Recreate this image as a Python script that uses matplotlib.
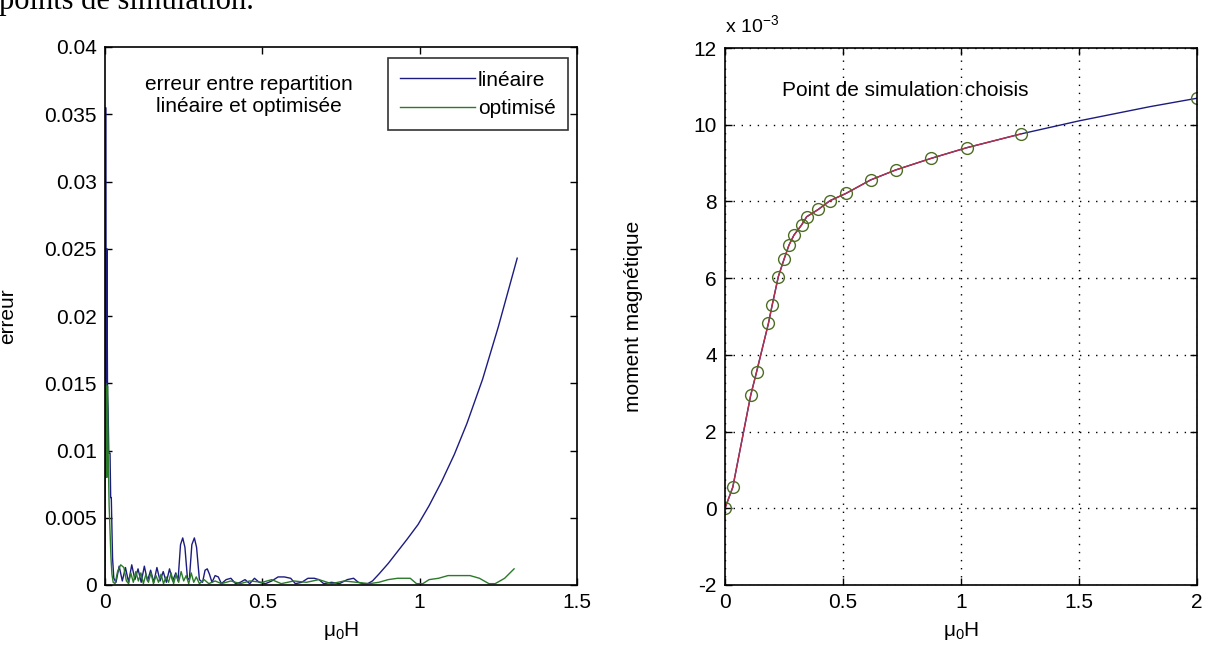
import matplotlib
matplotlib.use("Agg")
import matplotlib.pyplot as plt

plt.rcParams['font.family'] = ['Liberation Sans', 'DejaVu Sans']
plt.rcParams['mathtext.fontset'] = 'custom'
plt.rcParams['mathtext.rm'] = 'Liberation Sans'
plt.rcParams['mathtext.it'] = 'Liberation Sans'

# ---------------- left panel data ----------------
lin_x = [0.000, 0.002, 0.004, 0.006, 0.008, 0.010, 0.012, 0.016, 0.018, 0.020, 0.024, 0.028,
         0.035, 0.045, 0.055, 0.065, 0.075, 0.085, 0.095, 0.105, 0.115, 0.125, 0.135, 0.145,
         0.155, 0.165, 0.175, 0.185, 0.195, 0.205, 0.215, 0.225, 0.232, 0.240, 0.247, 0.254,
         0.262, 0.268, 0.276, 0.284, 0.291, 0.300, 0.310, 0.318, 0.325, 0.332, 0.340, 0.350,
         0.360, 0.370, 0.385, 0.400, 0.415, 0.430, 0.445, 0.460, 0.475, 0.490, 0.510, 0.530,
         0.550, 0.570, 0.590, 0.605, 0.625, 0.645, 0.665, 0.680, 0.695, 0.720, 0.745, 0.770,
         0.790, 0.805, 0.820, 0.835, 0.850, 0.870, 0.900, 0.930, 0.960, 0.995, 1.030, 1.070,
         1.110, 1.150, 1.200, 1.250, 1.310]
lin_y = [0.0000, 0.0355, 0.0100, 0.0250, 0.0143, 0.0130, 0.0098, 0.0098, 0.0065, 0.0065, 0.0020, 0.0005,
         0.0002, 0.0014, 0.0003, 0.0013, 0.0002, 0.0015, 0.0004, 0.0012, 0.0002, 0.0014, 0.0003, 0.0011,
         0.0002, 0.0013, 0.0003, 0.0010, 0.0002, 0.0012, 0.0003, 0.0009, 0.0003, 0.0030, 0.0035, 0.0028,
         0.0005, 0.0004, 0.0030, 0.0035, 0.0028, 0.0004, 0.0002, 0.0011, 0.0012, 0.0008, 0.0002, 0.0007,
         0.0006, 0.0001, 0.0004, 0.0005, 0.0001, 0.0002, 0.0004, 0.0001, 0.0005, 0.0002, 0.0001, 0.0003,
         0.0006, 0.0006, 0.0005, 0.0001, 0.0002, 0.0005, 0.0005, 0.0004, 0.0001, 0.0002, 0.0001, 0.0004,
         0.0005, 0.0002, 0.0001, 0.0001, 0.0003, 0.0008, 0.0016, 0.0025, 0.0034, 0.0045, 0.0059, 0.0077,
         0.0097, 0.0120, 0.0153, 0.0192, 0.0243]

opt_x = [0.000, 0.002, 0.004, 0.006, 0.008, 0.010, 0.013, 0.016, 0.019, 0.022, 0.026, 0.032,
         0.040, 0.050, 0.060, 0.068, 0.075, 0.082, 0.090, 0.098, 0.106, 0.114, 0.122, 0.130,
         0.138, 0.146, 0.154, 0.162, 0.170, 0.178, 0.186, 0.194, 0.202, 0.210, 0.218, 0.226,
         0.234, 0.242, 0.250, 0.258, 0.266, 0.274, 0.282, 0.290, 0.300, 0.315, 0.330, 0.350,
         0.370, 0.400, 0.430, 0.460, 0.500, 0.530, 0.560, 0.600, 0.640, 0.680, 0.720, 0.760,
         0.800, 0.840, 0.870, 0.900, 0.930, 0.970, 0.990, 1.010, 1.030, 1.060, 1.090, 1.120,
         1.160, 1.190, 1.220, 1.240, 1.270, 1.300]
opt_y = [0.0085, 0.0150, 0.0135, 0.0080, 0.0148, 0.0100, 0.0060, 0.0040, 0.0020, 0.0008, 0.0002, 0.0001,
         0.0010, 0.0015, 0.0013, 0.0003, 0.0001, 0.0009, 0.0002, 0.0010, 0.0003, 0.0009, 0.0001, 0.0008,
         0.0002, 0.0009, 0.0001, 0.0007, 0.0002, 0.0008, 0.0001, 0.0006, 0.0002, 0.0009, 0.0001, 0.0008,
         0.0002, 0.0010, 0.0003, 0.0007, 0.0001, 0.0009, 0.0002, 0.0006, 0.0001, 0.0004, 0.0001, 0.0003,
         0.0001, 0.0003, 0.0001, 0.0003, 0.0002, 0.0004, 0.0001, 0.0003, 0.0002, 0.0004, 0.0001, 0.0003,
         0.0002, 0.0001, 0.0002, 0.0004, 0.0005, 0.0005, 0.0001, 0.0001, 0.0004, 0.0005, 0.0007, 0.0007,
         0.0007, 0.0005, 0.0001, 0.0001, 0.0005, 0.0012]

left_xticks = [0, 0.5, 1, 1.5]
left_xticklabels = ['0', '0.5', '1', '1.5']
left_yticks = [0, 0.005, 0.01, 0.015, 0.02, 0.025, 0.03, 0.035, 0.04]
left_yticklabels = ['0', '0.005', '0.01', '0.015', '0.02', '0.025', '0.03', '0.035', '0.04']

# ---------------- right panel data (values in 1e-3) ----------------
pts_x = [0.0, 0.033, 0.109, 0.134, 0.184, 0.200, 0.226, 0.250, 0.271, 0.292, 0.325,
         0.346, 0.395, 0.445, 0.513, 0.617, 0.723, 0.872, 1.024, 1.254, 2.0]
pts_y = [0.0, 0.55, 2.95, 3.56, 4.82, 5.30, 6.04, 6.49, 6.86, 7.12, 7.39,
         7.60, 7.79, 8.02, 8.21, 8.56, 8.82, 9.12, 9.40, 9.76, 10.69]
curve_x = [0.0, 0.033, 0.109, 0.134, 0.184, 0.200, 0.226, 0.250, 0.271, 0.292, 0.325,
           0.346, 0.395, 0.445, 0.513, 0.617, 0.723, 0.872, 1.024, 1.254, 1.5, 1.8, 2.0]
curve_y = [0.0, 0.55, 2.95, 3.56, 4.82, 5.30, 6.04, 6.49, 6.86, 7.12, 7.39,
           7.60, 7.79, 8.02, 8.21, 8.56, 8.82, 9.12, 9.40, 9.76, 10.10, 10.47, 10.69]
red_x = pts_x[:-1]
red_y = pts_y[:-1]

right_xticks = [0, 0.5, 1, 1.5, 2]
right_xticklabels = ['0', '0.5', '1', '1.5', '2']
right_yticks = [-2, 0, 2, 4, 6, 8, 10, 12]
right_yticklabels = ['-2', '0', '2', '4', '6', '8', '10', '12']

BLUE = '#1c1c80'
GREEN = '#2a7a2a'
RED = '#b8304a'
CIRC = '#4d6e22'
FS = 15

W, H = 1207, 652
fig = plt.figure(figsize=(W / 100, H / 100), dpi=100)

def style(ax):
    ax.tick_params(direction='in', length=5, width=1, top=True, right=True,
                   labelsize=FS, pad=6, colors='black')
    for s in ax.spines.values():
        s.set_linewidth(1.2)

# top caption text (cropped at the top edge, as in the source image)
fig.text(-0.001, 1 - 9 / H, 'points de simulation.', family='Liberation Serif',
         fontsize=22, ha='left', va='baseline')

ax1 = fig.add_axes([105 / W, 1 - 585 / H, 472 / W, 538 / H])
ax1.plot(lin_x, lin_y, color=BLUE, lw=1.0, label='linéaire')
ax1.plot(opt_x, opt_y, color=GREEN, lw=1.0, label='optimisé')
ax1.set_xlim(0, 1.5)
ax1.set_ylim(0, 0.04)
ax1.set_xticks(left_xticks)
ax1.set_xticklabels(left_xticklabels)
ax1.set_yticks(left_yticks)
ax1.set_yticklabels(left_yticklabels)
style(ax1)
ax1.set_ylabel('erreur', fontsize=FS)
ax1.yaxis.set_label_coords(-88 / 472, 0.5)
ax1.set_xlabel('μ$_0$H', fontsize=FS)
ax1.xaxis.set_label_coords(0.5, -35 / 538)
ax1.text(0.458, 0.0364, 'erreur entre repartition\nlinéaire et optimisée',
         ha='center', va='center', fontsize=FS, linespacing=1.2)
leg = ax1.legend(loc='upper right', bbox_to_anchor=(568 / W, 1 - 58 / H),
                 bbox_transform=fig.transFigure, fontsize=FS, frameon=True,
                 fancybox=False, edgecolor='black', handlelength=3.6,
                 handletextpad=0.12, borderpad=0.6, labelspacing=0.45,
                 borderaxespad=0)
leg.get_frame().set_linewidth(1.2)

ax2 = fig.add_axes([725 / W, 1 - 585 / H, 472 / W, 537 / H])
ax2.plot(curve_x, curve_y, color=BLUE, lw=1.0)
ax2.plot(red_x, red_y, color=RED, lw=1.0)
ax2.plot(pts_x, pts_y, 'o', mfc='none', mec=CIRC, ms=8.5, mew=1.0)
ax2.set_xlim(0, 2)
ax2.set_ylim(-2, 12)
ax2.set_xticks(right_xticks)
ax2.set_xticklabels(right_xticklabels)
ax2.set_yticks(right_yticks)
ax2.set_yticklabels(right_yticklabels)
ax2.grid(True, color='black', linestyle=(0, (1, 4.8)), linewidth=1.0)
style(ax2)
ax2.set_ylabel('moment magnétique', fontsize=FS)
ax2.yaxis.set_label_coords(-82 / 472, 0.5)
ax2.set_xlabel('μ$_0$H', fontsize=FS)
ax2.xaxis.set_label_coords(0.5, -35 / 537)
ax2.text(0.2415, 10.9, 'Point de simulation choisis', ha='left', va='center', fontsize=FS)
ax2.text(0.0, 1.0 + 12 / 537, 'x 10$^{-3}$', transform=ax2.transAxes,
         ha='left', va='bottom', fontsize=FS - 1)

fig.savefig('out.png', dpi=100)
